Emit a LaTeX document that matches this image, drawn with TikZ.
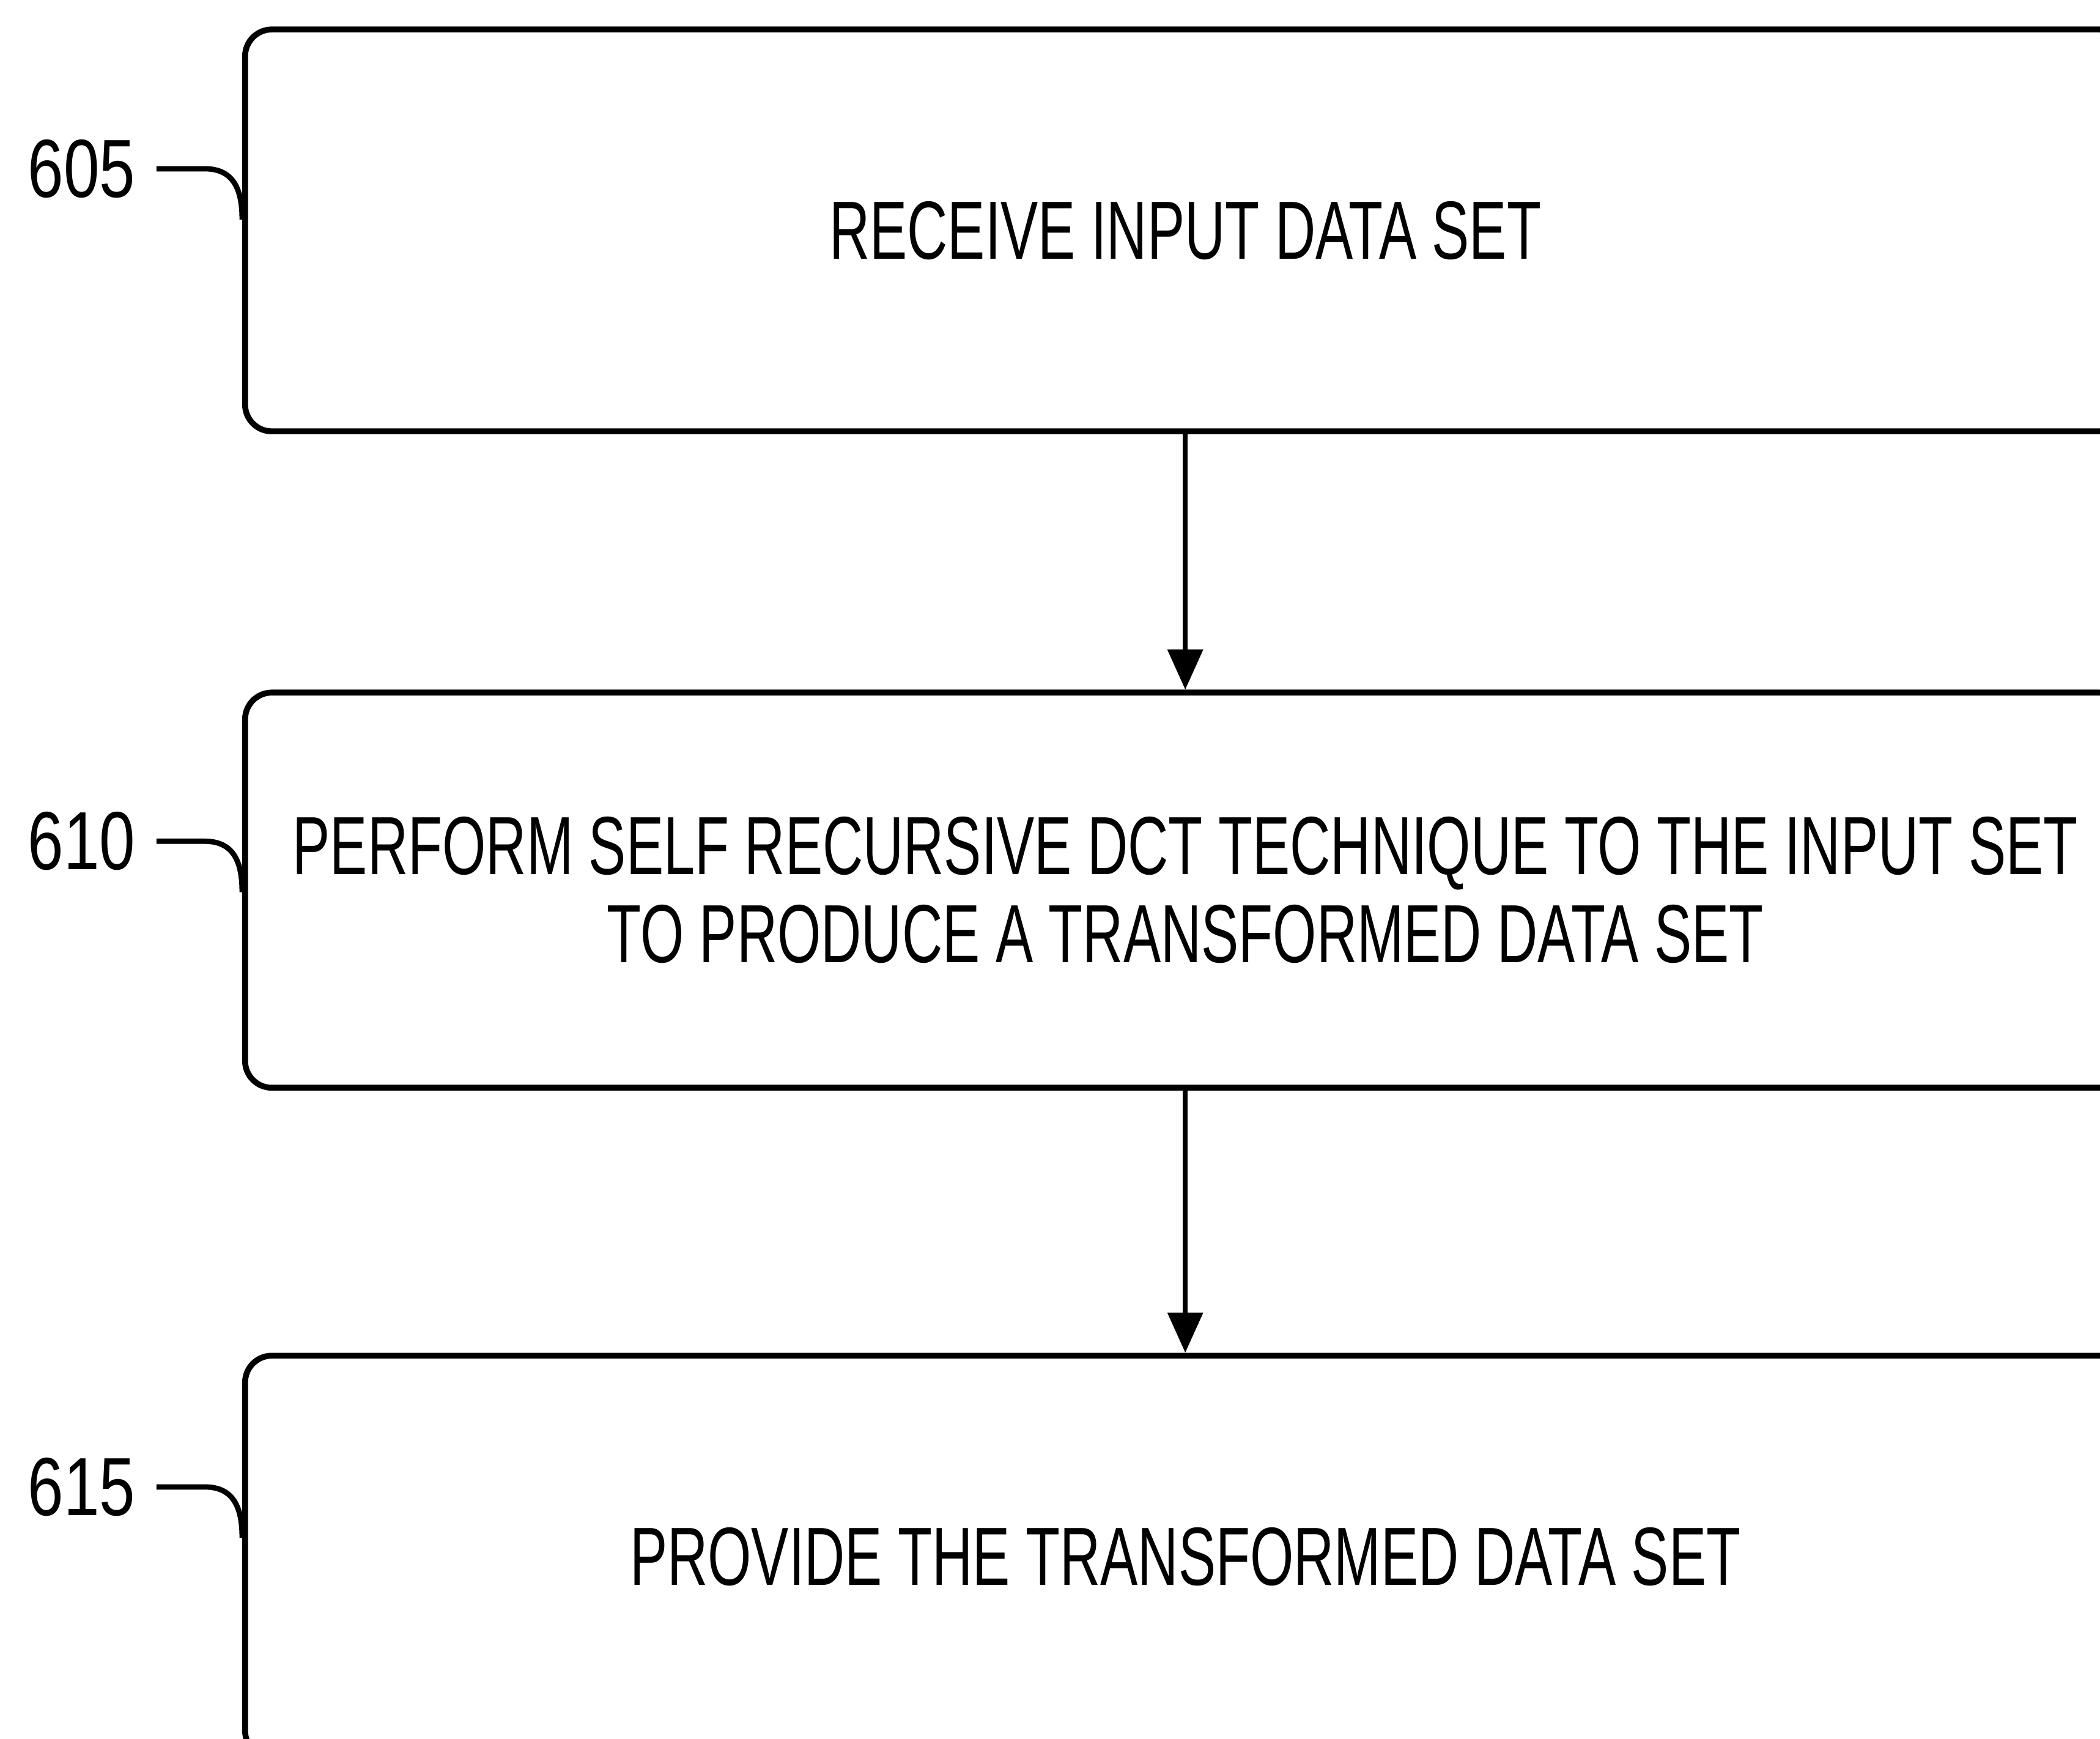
\documentclass[tikz,border=0pt]{standalone}
\usepackage{fontspec}
\usepackage{tikz}
\usetikzlibrary{positioning,arrows.meta,calc}
\newfontfamily\flowfont{Liberation Sans}[FakeStretch=0.68]
\newfontfamily\numfont{Liberation Sans}[FakeStretch=0.78]

\begin{document}
\begin{tikzpicture}[x=0.25pt,y=0.25pt,
    font=\flowfont\fontsize{15.4}{16.5}\selectfont,
    stepbox/.style={draw, line width=1.1pt, rounded corners=5pt, align=center,
        minimum width=351pt, inner sep=0pt},
    reflabel/.style={inner sep=0pt, font=\numfont\fontsize{15.4}{16.5}\selectfont},
    leader/.style={line width=1pt},
    flow/.style={line width=0.9pt, -{Triangle[length=7.5pt,width=6.5pt]}}]
    \useasboundingbox (0,0) rectangle (1568,1298);

    % Draw the three steps
    \node[stepbox, minimum height=75pt] (b605) at (885,1126) {RECEIVE INPUT DATA SET};
    \node[stepbox, minimum height=73.75pt] (b610) at (885,633.5)
        {PERFORM SELF RECURSIVE DCT TECHNIQUE TO THE INPUT SET\\TO PRODUCE A TRANSFORMED DATA SET};
    \node[stepbox, minimum height=75pt] (b615) at (885,136) {PROVIDE THE TRANSFORMED DATA SET};

    % Reference numerals
    \node[reflabel] (l605) at (61,1172) {605};
    \node[reflabel] (l610) at (61,670) {610};
    \node[reflabel] (l615) at (61,188) {615};

    \foreach \s in {605,610,615} {
        \draw[leader] ([xshift=3.75pt]l\s.east) -- ++(36,0)
            .. controls +(22,0) and +(0,22) .. ([yshift=-9.5pt]b\s.west |- l\s);
    }

    % Arrows between the steps
    \draw[flow] (b605) -- (b610);
    \draw[flow] (b610) -- (b615);
\end{tikzpicture}
\end{document}
